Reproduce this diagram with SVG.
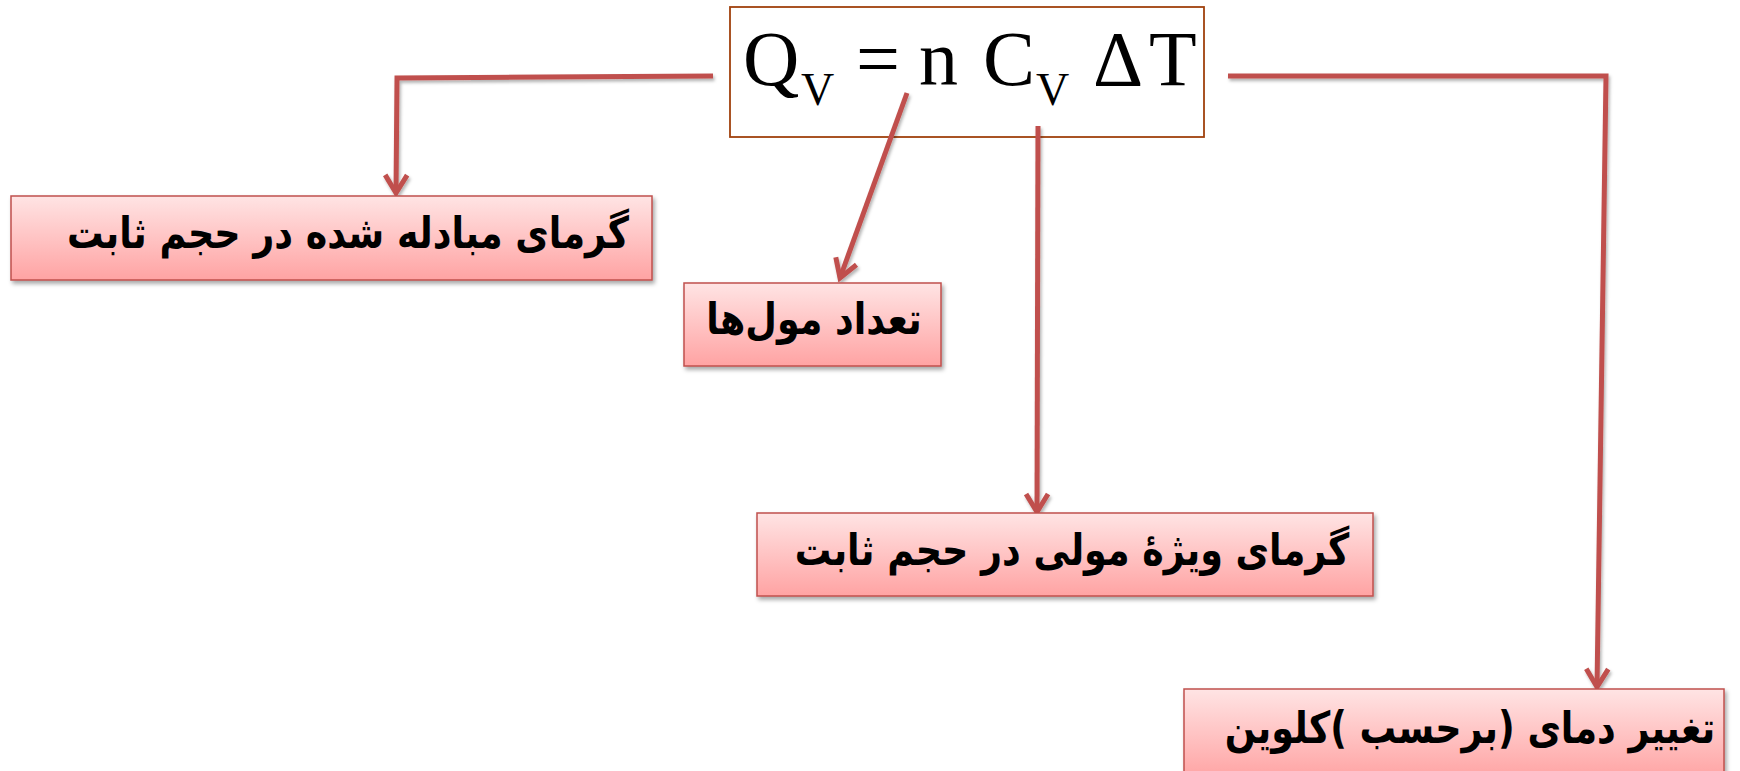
<svg xmlns="http://www.w3.org/2000/svg" width="1740" height="771" viewBox="0 0 1740 771">
<defs>
<linearGradient id="boxGrad" x1="0" y1="0" x2="0" y2="1">
<stop offset="0" stop-color="#ffe4e4"/>
<stop offset="1" stop-color="#ffa3a3"/>
</linearGradient>
<filter id="shadow" x="-10%" y="-20%" width="120%" height="150%">
<feDropShadow dx="2" dy="3" stdDeviation="2" flood-color="#000" flood-opacity="0.35"/>
</filter>
<filter id="lshadow" filterUnits="userSpaceOnUse" x="0" y="0" width="1740" height="771">
<feDropShadow dx="1.5" dy="2.5" stdDeviation="1.5" flood-color="#000" flood-opacity="0.3"/>
</filter>
<marker id="arrow" markerUnits="userSpaceOnUse" viewBox="-24 -14 28 28" markerWidth="28" markerHeight="28" refX="0" refY="0" orient="auto">
<path d="M-18,-11 L0,0 L-18,11" fill="none" stroke="#c0504d" stroke-width="5" stroke-linejoin="miter"/>
</marker>
<style>
.box{fill:url(#boxGrad);stroke:#c0504d;stroke-width:1.5;filter:url(#shadow);}
.lbl{font-family:"DejaVu Sans",sans-serif;font-weight:bold;font-size:36.5px;fill:#000;text-anchor:middle;}
.conn{fill:none;stroke:#c0504d;stroke-width:5;filter:url(#lshadow);}
.f{font-family:"Liberation Serif","Times New Roman",serif;fill:#000;}
.fb{font-size:78px;}
.fs{font-size:46px;}
</style>
</defs>
<rect width="1740" height="771" fill="#fff"/>
<g id="formula">
<rect x="730" y="7" width="474" height="130" fill="#fff" stroke="#a0410d" stroke-width="1.8"/>
<text class="f fb" x="743" y="85">Q</text>
<text class="f fs" x="801" y="105">V</text>
<text class="f fb" x="856" y="85">=</text>
<text class="f fb" x="919" y="85">n</text>
<text class="f fb" x="983" y="85">C</text>
<text class="f fs" x="1036" y="105">V</text>
<text class="f fb" x="1093" y="85">Δ</text>
<text class="f fb" x="1149" y="85">T</text>
</g>
<g id="connectors">
<path class="conn" d="M713,76 L397,78 L396,193" marker-end="url(#arrow)"/>
<path class="conn" d="M907,93 L840,278" marker-end="url(#arrow)"/>
<path class="conn" d="M1038,126 L1037,512" marker-end="url(#arrow)"/>
<path class="conn" d="M1228,76 L1606,76 L1597,687" marker-end="url(#arrow)"/>
</g>
<g id="node-heat">
<rect class="box" x="11" y="196" width="641" height="84"/>
<text class="lbl" transform="translate(348,248) scale(1,1.2)">گرمای مبادله شده در حجم ثابت</text>
</g>
<g id="node-moles">
<rect class="box" x="684" y="283" width="257" height="83"/>
<text class="lbl" transform="translate(814,334) scale(1,1.2)">تعداد مول‌ها</text>
</g>
<g id="node-cv">
<rect class="box" x="757" y="513" width="616" height="83"/>
<text class="lbl" transform="translate(1072,565) scale(1,1.2)">گرمای ویژهٔ مولی در حجم ثابت</text>
</g>
<g id="node-dt">
<rect class="box" x="1184" y="689" width="540" height="90"/>
<text class="lbl" transform="translate(1470,743) scale(1,1.2)">تغییر دمای (برحسب )کلوین</text>
</g>
</svg>
